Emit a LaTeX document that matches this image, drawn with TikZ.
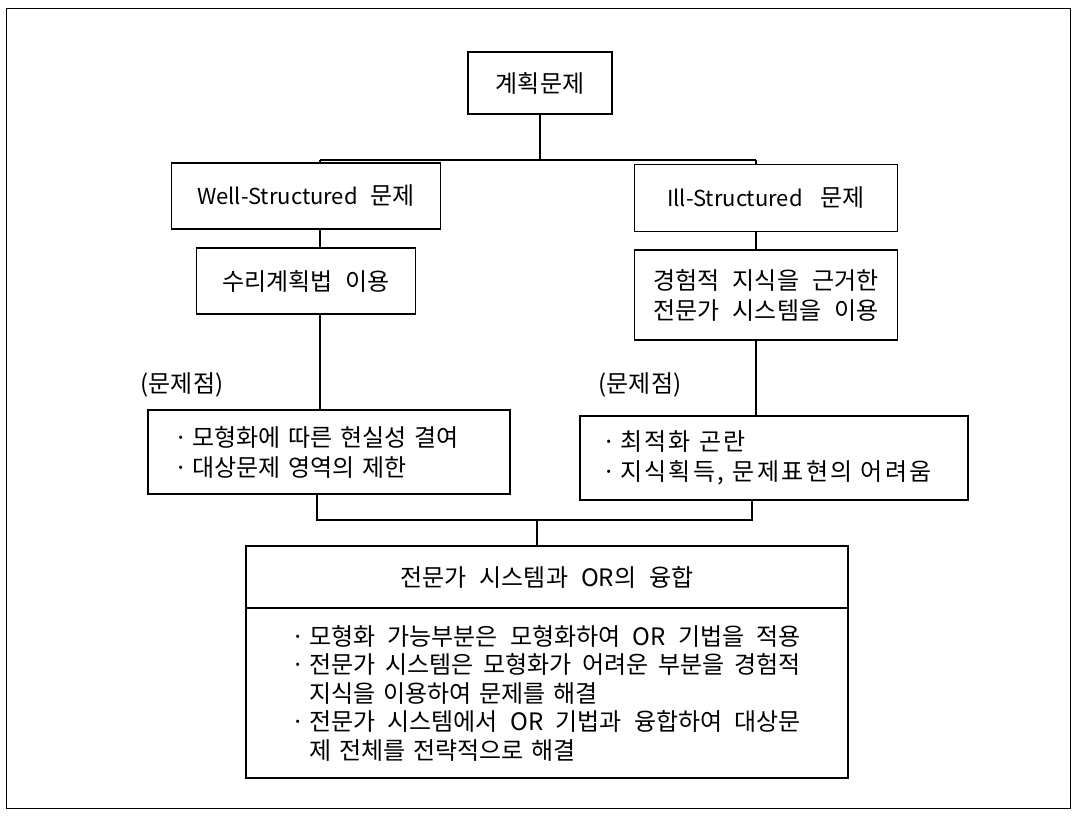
\documentclass[tikz,border=0pt]{standalone}
\usepackage{fontspec}
\setmainfont{Noto Sans CJK KR}
\newcommand\dotitem{\makebox[18pt][l]{·}}
\newcommand\noitem{\hspace*{18pt}}
\newcommand\fullline[1]{\makebox[492pt][s]{#1}}
\newcommand\lat[1]{{\fontsize{22}{30}\selectfont #1}}
\newcommand\widespaces{\spaceskip=13pt plus 40pt\relax}
\begin{document}
\begin{tikzpicture}[x=1pt,y=-1pt,line width=1.3pt,
    box/.style={draw,rectangle,inner sep=0pt,align=left,
      font=\fontsize{24}{30}\selectfont\widespaces},
    lab/.style={font=\fontsize{24}{30}\selectfont}]
  \useasboundingbox (0,0) rectangle (1077,815);
  \draw[line width=1pt] (6,8) rectangle (1070,808);
  \node[box,minimum width=144pt,minimum height=62pt] (plan) at (540,83) {계획문제};
  \node[box,minimum width=269pt,minimum height=66pt] (well) at (306,196) {\lat{Well-Structured} 문제};
  \node[box,minimum width=263pt,minimum height=67pt] (ill) at (766,198) {\lat{Ill-Structured}\hspace{18pt}문제};
  \node[box,minimum width=219pt,minimum height=66pt] (math) at (306,281) {수리계획법 이용};
  \node[box,minimum width=263pt,minimum height=90pt] (expert) at (766,295) {경험적 지식을 근거한\\전문가 시스템을 이용};
  \node[lab] (lab1) at (182,385) {(문제점)};
  \node[lab] (lab2) at (640,385) {(문제점)};
  \node[box,inner xsep=26pt,text width=310pt,minimum height=84pt] (prob1) at (329,452)
    {\dotitem 모형화에 따른 현실성 결여\\\dotitem 대상문제 영역의 제한};
  \node[box,inner xsep=22pt,text width=344pt,minimum height=84pt,
    font=\fontsize{24}{30}\selectfont\addfontfeature{LetterSpace=10}\widespaces] (prob2) at (774,458)
    {\dotitem 최적화 곤란\\\dotitem 지식획득, 문제표현의 어려움};
  \node[box,minimum width=602pt,minimum height=62pt] (title) at (547,577) {전문가 시스템과 OR의 융합};
  \node[box,inner xsep=45pt,text width=512pt,minimum height=170pt,
    font=\fontsize{24}{28.5}\selectfont\widespaces] (body) at (547,693)
    {\dotitem\fullline{모형화\hfill 가능부분은\hfill 모형화하여\hfill OR\hfill 기법을\hfill 적용}\\
     \dotitem\fullline{전문가\hfill 시스템은\hfill 모형화가\hfill 어려운\hfill 부분을\hfill 경험적}\\
     \noitem 지식을 이용하여 문제를 해결\\
     \dotitem\fullline{전문가\hfill 시스템에서\hfill OR\hfill 기법과\hfill 융합하여\hfill 대상문}\\
     \noitem 제 전체를 전략적으로 해결};
  \coordinate (top) at (540,160);
  \coordinate (wx) at (320,160);
  \coordinate (ix) at (756,160);
  \coordinate (low) at (537,520);
  \coordinate (lx) at (317,520);
  \coordinate (rx) at (752,520);
  \draw (plan.south -| top) -- (top);
  \draw (wx) -- (ix);
  \draw (wx) -- (well.north -| wx);
  \draw (ix) -- (ill.north -| ix);
  \draw (well.south -| wx) -- (math.north -| wx);
  \draw (math.south -| wx) -- (prob1.north -| wx);
  \draw (ill.south -| ix) -- (expert.north -| ix);
  \draw (expert.south -| ix) -- (prob2.north -| ix);
  \draw (prob1.south -| lx) -- (lx) -- (rx) -- (prob2.south -| rx);
  \draw (low) -- (title.north -| low);
\end{tikzpicture}
\end{document}
